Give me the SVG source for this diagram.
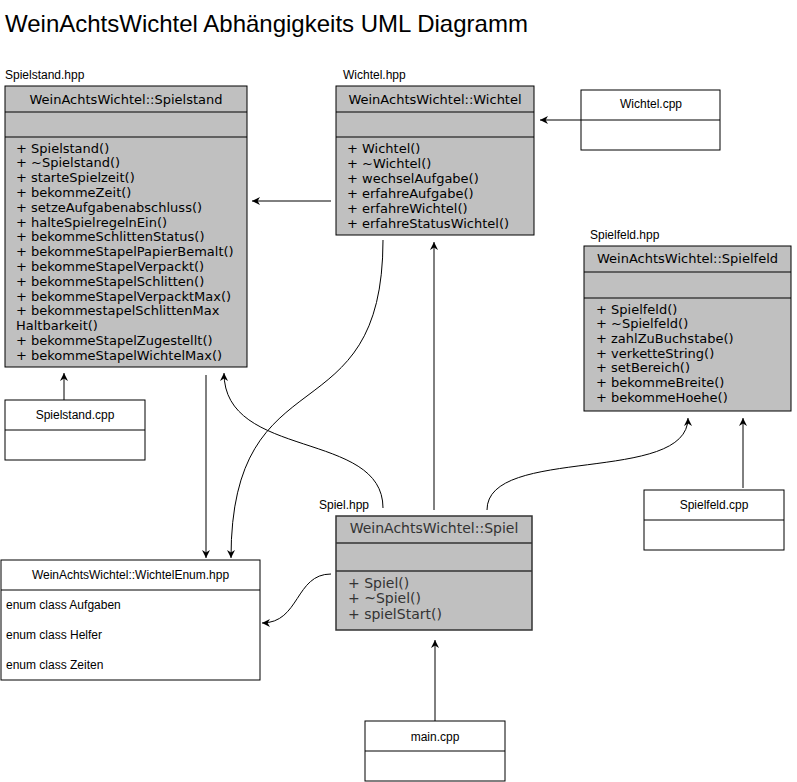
<svg xmlns="http://www.w3.org/2000/svg" width="797" height="782" viewBox="0 0 797 782">
<style>
.cls{fill:#C0C0C0;stroke:#000;stroke-width:1}
.spiel{fill:#C0C0C0;stroke:#333;stroke-width:1.5}
.box{fill:#fff;stroke:#000;stroke-width:1}
.sep{stroke:#000;stroke-width:1}
.sep2{stroke:#333;stroke-width:1.5}
.m{font-family:"DejaVu Sans",sans-serif;font-size:13px;fill:#000}
.ms{font-family:"DejaVu Sans",sans-serif;font-size:14px;fill:#333}
.hd{text-anchor:middle}
.lb{font-family:"Liberation Sans",Arial,sans-serif;font-size:12px;fill:#000}
.c{text-anchor:middle}
.title{font-family:"Liberation Sans",Arial,sans-serif;font-size:24px;fill:#000}
.edge{fill:none;stroke:#000;stroke-width:1;marker-end:url(#arr)}
</style>
<defs>
<marker id="arr" viewBox="0 0 10 10" refX="10" refY="5" markerWidth="8" markerHeight="8" markerUnits="userSpaceOnUse" orient="auto">
<path d="M0,0 L10,5 L0,10 L3,5 Z" fill="#000"/>
</marker>
</defs>
<rect width="797" height="782" fill="#fff"/>
<text class="title" x="5" y="32">WeinAchtsWichtel Abhängigkeits UML Diagramm</text>

<g id="spielstand">
<text class="lb" x="5" y="79">Spielstand.hpp</text>
<rect class="cls" x="5" y="86" width="242" height="281"/>
<line class="sep" x1="5" y1="112" x2="247" y2="112"/>
<line class="sep" x1="5" y1="137" x2="247" y2="137"/>
<text class="m hd" x="126" y="103.5">WeinAchtsWichtel::Spielstand</text>
<text class="m" x="16" y="152.5">+ Spielstand()</text>
<text class="m" x="16" y="167.3">+ ~Spielstand()</text>
<text class="m" x="16" y="182.1">+ starteSpielzeit()</text>
<text class="m" x="16" y="196.9">+ bekommeZeit()</text>
<text class="m" x="16" y="211.7">+ setzeAufgabenabschluss()</text>
<text class="m" x="16" y="226.5">+ halteSpielregelnEin()</text>
<text class="m" x="16" y="241.3">+ bekommeSchlittenStatus()</text>
<text class="m" x="16" y="256.1">+ bekommeStapelPapierBemalt()</text>
<text class="m" x="16" y="270.9">+ bekommeStapelVerpackt()</text>
<text class="m" x="16" y="285.7">+ bekommeStapelSchlitten()</text>
<text class="m" x="16" y="300.5">+ bekommeStapelVerpacktMax()</text>
<text class="m" x="16" y="315.3">+ bekommestapelSchlittenMax</text>
<text class="m" x="16" y="330.1">Haltbarkeit()</text>
<text class="m" x="16" y="344.9">+ bekommeStapelZugestellt()</text>
<text class="m" x="16" y="359.7">+ bekommeStapelWichtelMax()</text>
</g>

<g id="wichtel">
<text class="lb" x="343" y="79">Wichtel.hpp</text>
<rect class="cls" x="336" y="86" width="198" height="149"/>
<line class="sep" x1="336" y1="112" x2="534" y2="112"/>
<line class="sep" x1="336" y1="137" x2="534" y2="137"/>
<text class="m hd" x="435" y="103.5">WeinAchtsWichtel::Wichtel</text>
<text class="m" x="347" y="152.5">+ Wichtel()</text>
<text class="m" x="347" y="167.5">+ ~Wichtel()</text>
<text class="m" x="347" y="182.5">+ wechselAufgabe()</text>
<text class="m" x="347" y="197.5">+ erfahreAufgabe()</text>
<text class="m" x="347" y="212.5">+ erfahreWichtel()</text>
<text class="m" x="347" y="227.5">+ erfahreStatusWichtel()</text>
</g>

<g id="wichtel-cpp">
<rect class="box" x="581" y="90" width="139" height="60"/>
<line class="sep" x1="581" y1="120" x2="720" y2="120"/>
<text class="lb c" x="651" y="108">Wichtel.cpp</text>
</g>

<g id="spielfeld">
<text class="lb" x="590" y="239">Spielfeld.hpp</text>
<rect class="cls" x="584" y="246" width="207" height="165"/>
<line class="sep" x1="584" y1="272" x2="791" y2="272"/>
<line class="sep" x1="584" y1="298" x2="791" y2="298"/>
<text class="m hd" x="687.5" y="263">WeinAchtsWichtel::Spielfeld</text>
<text class="m" x="596" y="313.5">+ Spielfeld()</text>
<text class="m" x="596" y="328.2">+ ~Spielfeld()</text>
<text class="m" x="596" y="342.9">+ zahlZuBuchstabe()</text>
<text class="m" x="596" y="357.6">+ verketteString()</text>
<text class="m" x="596" y="372.3">+ setBereich()</text>
<text class="m" x="596" y="387">+ bekommeBreite()</text>
<text class="m" x="596" y="401.7">+ bekommeHoehe()</text>
</g>

<g id="spielstand-cpp">
<rect class="box" x="5" y="400" width="140" height="60"/>
<line class="sep" x1="5" y1="430" x2="145" y2="430"/>
<text class="lb c" x="75" y="419">Spielstand.cpp</text>
</g>

<g id="spielfeld-cpp">
<rect class="box" x="644" y="490" width="140" height="60"/>
<line class="sep" x1="644" y1="520" x2="784" y2="520"/>
<text class="lb c" x="714" y="509">Spielfeld.cpp</text>
</g>

<g id="spiel">
<text class="lb" x="319" y="509">Spiel.hpp</text>
<rect class="spiel" x="336" y="516" width="196" height="114"/>
<line class="sep2" x1="336" y1="543" x2="532" y2="543"/>
<line class="sep2" x1="336" y1="571" x2="532" y2="571"/>
<text class="ms hd" x="434" y="533">WeinAchtsWichtel::Spiel</text>
<text class="ms" x="348" y="588">+ Spiel()</text>
<text class="ms" x="348" y="603">+ ~Spiel()</text>
<text class="ms" x="348" y="618.5">+ spielStart()</text>
</g>

<g id="wichtelenum">
<rect class="box" x="1" y="560" width="259" height="120"/>
<line class="sep" x1="1" y1="590" x2="260" y2="590"/>
<text class="lb c" x="130.5" y="579">WeinAchtsWichtel::WichtelEnum.hpp</text>
<text class="lb" x="6" y="609">enum class Aufgaben</text>
<text class="lb" x="6" y="639">enum class Helfer</text>
<text class="lb" x="6" y="669">enum class Zeiten</text>
</g>

<g id="main-cpp">
<rect class="box" x="365" y="721" width="140" height="60"/>
<line class="sep" x1="365" y1="751" x2="505" y2="751"/>
<text class="lb c" x="435" y="741">main.cpp</text>
</g>

<g id="connectors">
<path class="edge" d="M581,120 L540,120"/>
<path class="edge" d="M331,201 L252,201"/>
<path class="edge" d="M64,400 L64,373"/>
<path class="edge" d="M206,375 L206,558"/>
<path class="edge" d="M383,240 C383,440 231,350 231,558"/>
<path class="edge" d="M383,508 C383,430 224,460 224,373"/>
<path class="edge" d="M434,510 L434,242"/>
<path class="edge" d="M487,510 C487,445 688,485 688,418"/>
<path class="edge" d="M743,488 L743,418"/>
<path class="edge" d="M435,721 L435,640"/>
<path class="edge" d="M331,574 C295,574 300,623 262,623"/>
</g>
</svg>
